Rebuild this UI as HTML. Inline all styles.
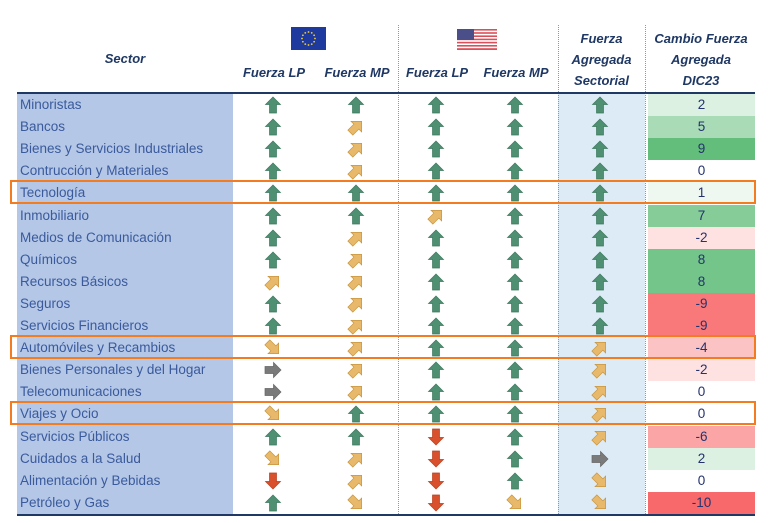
<!DOCTYPE html>
<html><head><meta charset="utf-8">
<style>
body{margin:0;width:771px;height:523px;background:#fff;position:relative;overflow:hidden;font-family:"Liberation Sans",sans-serif}
.abs{position:absolute}
.hdr{position:absolute;color:#1f3864;font-weight:bold;font-style:italic;font-size:13px;text-align:center;line-height:21px}
.sec{position:absolute;left:20px;font-size:13.5px;color:#3a5a9c;line-height:22px}
.val{position:absolute;text-align:center;font-size:13.5px;color:#24336e;line-height:22px}
.vline{position:absolute;width:0;border-left:1px dotted #8a96b8;top:25px;height:489px}
.box{position:absolute;left:10px;width:742px;height:20px;border:2.5px solid #f47c20;pointer-events:none}
</style></head>
<body>
<div class="abs" style="left:17px;top:94px;width:216px;height:420px;background:#b4c7e7"></div>
<div class="abs" style="left:558px;top:94px;width:87px;height:420px;background:#ddebf7"></div>
<div class="vline" style="left:398px"></div>
<div class="vline" style="left:558px"></div>
<div class="vline" style="left:645px"></div>
<div class="abs" style="left:17px;top:92px;width:738px;height:2px;background:#1f3864"></div>
<div class="abs" style="left:17px;top:514px;width:738px;height:2px;background:#1f3864"></div>

<div class="hdr" style="left:17px;top:48px;width:216px">Sector</div>
<svg class="abs" style="left:291px;top:27px" width="35" height="23" viewBox="0 0 35 23">
<rect width="35" height="23" fill="#1f3a9e"/>
<g fill="#f5d020" id="stars"></g></svg>
<svg class="abs" style="left:457px;top:29px" width="40" height="21" viewBox="0 0 40 21">
<rect width="40" height="21" fill="#fff"/>
<g fill="#d9505a"><rect y="0" width="40" height="1.6"/><rect y="3.2" width="40" height="1.6"/><rect y="6.4" width="40" height="1.6"/><rect y="9.6" width="40" height="1.6"/><rect y="12.8" width="40" height="1.6"/><rect y="16" width="40" height="1.6"/><rect y="19.2" width="40" height="1.8"/></g>
<rect width="17" height="11" fill="#4a4f8a"/></svg>
<div class="hdr" style="left:236px;top:62px;width:76px">Fuerza LP</div>
<div class="hdr" style="left:316px;top:62px;width:82px">Fuerza MP</div>
<div class="hdr" style="left:400px;top:62px;width:74px">Fuerza LP</div>
<div class="hdr" style="left:476px;top:62px;width:80px">Fuerza MP</div>
<div class="hdr" style="left:558px;top:28px;width:87px">Fuerza<br>Agregada<br>Sectorial</div>
<div class="hdr" style="left:645px;top:28px;width:112px">Cambio Fuerza<br>Agregada<br>DIC23</div>

<svg width="0" height="0" style="position:absolute"><defs>
<path id="arr" d="M0,-8 L7.5,-0.5 L3.5,-0.5 L3.5,8 L-3.5,8 L-3.5,-0.5 L-7.5,-0.5 Z"/>
</defs></svg>
<div id="rows"></div>

<script>
// direction codes: 0 up(green), 1 up-right(yellow), 2 right(gray), 3 down-right(yellow), 4 down(red)
const sectors=["Minoristas","Bancos","Bienes y Servicios Industriales","Contrucción y Materiales","Tecnología","Inmobiliario","Medios de Comunicación","Químicos","Recursos Básicos","Seguros","Servicios Financieros","Automóviles y Recambios","Bienes Personales y del Hogar","Telecomunicaciones","Viajes y Ocio","Servicios Públicos","Cuidados a la Salud","Alimentación y Bebidas","Petróleo y Gas"];
const euLP=[0,0,0,0,0,0,0,0,1,0,0,3,2,2,3,0,3,4,0];
const euMP=[0,1,1,1,0,0,1,1,1,1,1,1,1,1,0,0,1,1,3];
const usLP=[0,0,0,0,0,1,0,0,0,0,0,0,0,0,0,4,4,4,4];
const usMP=[0,0,0,0,0,0,0,0,0,0,0,0,0,0,0,0,0,0,3];
const aggr=[0,0,0,0,0,0,0,0,0,0,0,1,1,1,1,1,2,3,3];
const change=[2,5,9,0,1,7,-2,8,8,-9,-9,-4,-2,0,0,-6,2,0,-10];
const highlighted=[4,11,14];

const stars=document.getElementById('stars');
for(let i=0;i<12;i++){const a=i*Math.PI/6;const c=document.createElementNS('http://www.w3.org/2000/svg','circle');
c.setAttribute('cx',17.5+6.5*Math.cos(a));c.setAttribute('cy',11.5+6.5*Math.sin(a));c.setAttribute('r',0.9);stars.appendChild(c);}

const top0=94, rowH=22.1;
const colX=[273,356,436,515,600];
const rotations=[0,45,90,135,180];
const fills=['#4f8f72','#e8b96a','#7a7a7a','#e8b96a','#d9502c'];
const strokes=['#3d7a5e','#c9963f','#666','#c9963f','#b83e1f'];
function cellColor(v){
  if(v>0){const t=v/9;const r=Math.round(255+(99-255)*t),g=Math.round(255+(190-255)*t),b=Math.round(255+(123-255)*t);return `rgb(${r},${g},${b})`;}
  if(v<0){const t=-v/10;const r=Math.round(255+(248-255)*t),g=Math.round(255+(105-255)*t),b=Math.round(255+(107-255)*t);return `rgb(${r},${g},${b})`;}
  return '#fff';
}
const root=document.getElementById('rows');
const cols=[euLP,euMP,usLP,usMP,aggr];
const colNames=['eu-lp','eu-mp','us-lp','us-mp','aggregate'];
sectors.forEach((s,i)=>{
  const y=top0+i*rowH;
  const d=document.createElement('div');d.className='sec';d.style.top=y+'px';d.textContent=s;
  
  
  root.appendChild(d);
  cols.forEach((arr,c)=>{
    const code=arr[i];
    const svg=document.createElementNS('http://www.w3.org/2000/svg','svg');
    svg.setAttribute('width','18');svg.setAttribute('height','18');
    svg.setAttribute('viewBox','-9 -9 18 18');
    svg.style.position='absolute';svg.style.left=(colX[c]-9)+'px';svg.style.top=(y+2)+'px';
    
    
    const u=document.createElementNS('http://www.w3.org/2000/svg','use');
    u.setAttribute('href','#arr');
    u.setAttribute('transform','rotate('+rotations[code]+')');
    u.setAttribute('fill',fills[code]);u.setAttribute('stroke',strokes[code]);u.setAttribute('stroke-width','0.7');
    svg.appendChild(u);root.appendChild(svg);
  });
  const v=document.createElement('div');v.className='val';
  v.style.left='648px';v.style.width='107px';v.style.top=y+'px';v.style.height='22px';
  v.style.background=cellColor(change[i]);v.textContent=change[i];
  
  
  root.appendChild(v);
});
highlighted.forEach(i=>{
  const b=document.createElement('div');b.className='box';b.style.top=(top0+i*rowH-2)+'px';
  
  
  root.appendChild(b);
});
</script>
</body></html>
